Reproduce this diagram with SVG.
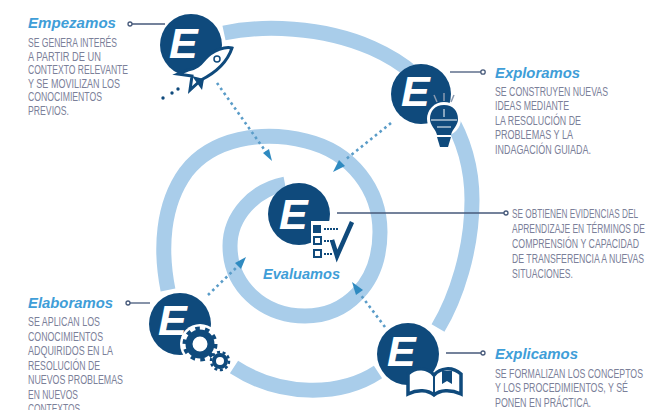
<svg xmlns="http://www.w3.org/2000/svg" width="646" height="410" viewBox="0 0 646 410">
<style>
.ring{fill:none;stroke:#a9cdea;stroke-width:15}
.conn{fill:none;stroke:#46597a;stroke-width:1.3}
.dot{fill:#fff;stroke:#46597a;stroke-width:1.3}
.flow{fill:none;stroke:#5a9cc8;stroke-width:2.6;stroke-dasharray:2.6 3.4}
.head{fill:#2f8ac0}
.badge{fill:#0f4a7c}
.e{font:italic 700 43px "Liberation Sans",Arial,sans-serif;fill:#fff}
.solid{fill:#0f4a7c}
.title{font:italic 700 14px "Liberation Sans",Arial,sans-serif;fill:#3f9ed8}
.body{font:400 12.5px "Liberation Sans",Arial,sans-serif;fill:#7b8099}
</style>
<g id="spiral">
<path class="ring" d="M224 33C262 25 322 26 372 48C440 78 472 140 472 200C472 250 456 298 438 328"/>
<path class="ring" d="M378 372C340 397 280 397 234 367"/>
<path class="ring" d="M168 290C160 250 162 205 186 172C212 138 262 130 306 141C352 152 380 190 380 232C380 285 345 316 305 316C262 316 230 285 230 246C230 216 254 190 285 184"/>
</g>
<g id="connectors">
<path class="conn" d="M130 24H165"/><circle class="dot" cx="130" cy="24" r="2"/>
<path class="conn" d="M450 72H481"/><circle class="dot" cx="483" cy="72" r="2.2"/>
<path class="conn" d="M129 303H150"/><circle class="dot" cx="128" cy="303" r="2"/>
<path class="conn" d="M446 353H481"/><circle class="dot" cx="483" cy="353" r="2"/>
<path class="conn" d="M337 213H504"/><circle class="dot" cx="506" cy="213" r="2"/>
<path class="flow" d="M217 83L266 152"/><path class="head" d="M272 161L263 153L269 149Z"/>
<path class="flow" d="M391 123L345 160"/><path class="head" d="M333 172L339 160L345 166Z"/>
<path class="flow" d="M208 295L238 266"/><path class="head" d="M246 257L241 269L235 263Z"/>
<path class="flow" d="M385 327L360 294"/><path class="head" d="M352 282L363 290L356 295Z"/>
</g>
<g id="empezamos">
<circle class="badge" cx="191" cy="45" r="31"/>
<text class="e" x="169" y="58">E</text>
<path d="M232 48C226 46 213 50 205 59C200 65 196 69 188 70L178 74L192 76L190 90L201 80C209 76 226 66 232 48Z" fill="#fff" stroke="#0f4a7c" stroke-width="3"/>
<path d="M192 76L202 90L204 79Z" class="solid"/>
<circle cx="217" cy="59" r="3" fill="none" stroke="#0f4a7c" stroke-width="1.5"/>
<circle cx="163" cy="98" r="1.7" class="solid"/><circle cx="172" cy="93" r="1.7" class="solid"/><circle cx="178" cy="89" r="1.7" class="solid"/>
<text class="title" x="28" y="28" textLength="88" lengthAdjust="spacingAndGlyphs">Empezamos</text>
<text class="body" x="28" y="47" textLength="89" lengthAdjust="spacingAndGlyphs">SE GENERA INTERÉS</text>
<text class="body" x="28" y="60.5" textLength="73" lengthAdjust="spacingAndGlyphs">A PARTIR DE UN</text>
<text class="body" x="28" y="74" textLength="100" lengthAdjust="spacingAndGlyphs">CONTEXTO RELEVANTE</text>
<text class="body" x="28" y="88" textLength="92" lengthAdjust="spacingAndGlyphs">Y SE MOVILIZAN LOS</text>
<text class="body" x="28" y="101" textLength="74" lengthAdjust="spacingAndGlyphs">CONOCIMIENTOS</text>
<text class="body" x="28" y="115" textLength="41" lengthAdjust="spacingAndGlyphs">PREVIOS.</text>
</g>
<g id="exploramos">
<circle class="badge" cx="421" cy="94" r="30"/>
<text class="e" x="401" y="106">E</text>
<circle cx="444" cy="119" r="17" fill="#fff"/>
<path class="solid" d="M444 105C435 105 430 111 430 119C430 126 436 129 437 135H451C452 129 458 126 458 119C458 111 453 105 444 105Z"/>
<path class="solid" d="M437 137H451L448 147H440Z"/>
<path d="M431 120H457" stroke="#fff" stroke-width="1"/>
<path d="M444 109V117M437 127H451" stroke="#fff" stroke-width="1"/>
<path d="M437 102L434 95M444 101V93M451 102L454 95" stroke="#8a9ab0" stroke-width="1.5"/>
<text class="title" x="495" y="78" textLength="85" lengthAdjust="spacingAndGlyphs">Exploramos</text>
<text class="body" x="495" y="96" textLength="113" lengthAdjust="spacingAndGlyphs">SE CONSTRUYEN NUEVAS</text>
<text class="body" x="495" y="110" textLength="74" lengthAdjust="spacingAndGlyphs">IDEAS MEDIANTE</text>
<text class="body" x="495" y="125" textLength="86" lengthAdjust="spacingAndGlyphs">LA RESOLUCIÓN DE</text>
<text class="body" x="495" y="139" textLength="78" lengthAdjust="spacingAndGlyphs">PROBLEMAS Y LA</text>
<text class="body" x="495" y="154" textLength="96" lengthAdjust="spacingAndGlyphs">INDAGACIÓN GUIADA.</text>
</g>
<g id="evaluamos">
<circle class="badge" cx="299" cy="214" r="31"/>
<text class="e" x="279" y="229">E</text>
<rect x="311" y="221" width="28" height="40" fill="#fff"/>
<rect x="313" y="225" width="8" height="8" class="solid"/>
<rect x="314" y="237" width="7" height="7" fill="#fff" stroke="#0f4a7c" stroke-width="2"/>
<rect x="314" y="250" width="7" height="7" fill="#fff" stroke="#0f4a7c" stroke-width="2"/>
<path d="M324 229H339M324 241H333M324 254H333" stroke="#0f4a7c" stroke-width="2" stroke-dasharray="2 1"/>
<path d="M332 240L337 256L352 222" fill="none" stroke="#0f4a7c" stroke-width="4.5"/>
<text class="title" x="263" y="279" textLength="77" lengthAdjust="spacingAndGlyphs">Evaluamos</text>
<text class="body" x="512" y="218" textLength="126" lengthAdjust="spacingAndGlyphs">SE OBTIENEN EVIDENCIAS DEL</text>
<text class="body" x="512" y="233" textLength="133" lengthAdjust="spacingAndGlyphs">APRENDIZAJE EN TÉRMINOS DE</text>
<text class="body" x="512" y="248" textLength="127" lengthAdjust="spacingAndGlyphs">COMPRENSIÓN Y CAPACIDAD</text>
<text class="body" x="512" y="263" textLength="132" lengthAdjust="spacingAndGlyphs">DE TRANSFERENCIA A NUEVAS</text>
<text class="body" x="512" y="278" textLength="61" lengthAdjust="spacingAndGlyphs">SITUACIONES.</text>
</g>
<g id="elaboramos">
<circle class="badge" cx="180" cy="324" r="31"/>
<text class="e" x="158" y="335">E</text>
<circle cx="200" cy="344" r="20" fill="#fff"/>
<circle cx="200" cy="344" r="11" fill="none" stroke="#0f4a7c" stroke-width="7"/>
<circle cx="200" cy="344" r="15.5" fill="none" stroke="#0f4a7c" stroke-width="4" stroke-dasharray="4.5 5.2"/>
<circle cx="220" cy="361" r="6" fill="#fff" stroke="#0f4a7c" stroke-width="4"/>
<circle cx="220" cy="361" r="9" fill="none" stroke="#0f4a7c" stroke-width="2.5" stroke-dasharray="3 2.6"/>
<text class="title" x="28" y="308" textLength="85" lengthAdjust="spacingAndGlyphs">Elaboramos</text>
<text class="body" x="28" y="326" textLength="72" lengthAdjust="spacingAndGlyphs">SE APLICAN LOS</text>
<text class="body" x="28" y="341" textLength="75" lengthAdjust="spacingAndGlyphs">CONOCIMIENTOS</text>
<text class="body" x="28" y="355" textLength="85" lengthAdjust="spacingAndGlyphs">ADQUIRIDOS EN LA</text>
<text class="body" x="28" y="370" textLength="72" lengthAdjust="spacingAndGlyphs">RESOLUCIÓN DE</text>
<text class="body" x="28" y="384" textLength="95" lengthAdjust="spacingAndGlyphs">NUEVOS PROBLEMAS</text>
<text class="body" x="28" y="399" textLength="50" lengthAdjust="spacingAndGlyphs">EN NUEVOS</text>
<text class="body" x="28" y="413" textLength="52" lengthAdjust="spacingAndGlyphs">CONTEXTOS</text>
</g>
<g id="explicamos">
<circle class="badge" cx="408" cy="354" r="31"/>
<text class="e" x="387" y="366">E</text>
<path d="M408 394V374C416 366 428 368 434 375C440 368 452 366 461 374V394C450 389 440 390 434 395C428 390 418 389 408 394Z" fill="#fff" stroke="#0f4a7c" stroke-width="3.5"/>
<path d="M434 375V394" stroke="#0f4a7c" stroke-width="2"/>
<path d="M442 371V384L447 381L452 384V371Z" class="solid"/>
<text class="title" x="495" y="359" textLength="83" lengthAdjust="spacingAndGlyphs">Explicamos</text>
<text class="body" x="495" y="378" textLength="148" lengthAdjust="spacingAndGlyphs">SE FORMALIZAN LOS CONCEPTOS</text>
<text class="body" x="495" y="392" textLength="133" lengthAdjust="spacingAndGlyphs">Y LOS PROCEDIMIENTOS, Y SÉ</text>
<text class="body" x="495" y="407" textLength="96" lengthAdjust="spacingAndGlyphs">PONEN EN PRÁCTICA.</text>
</g>
</svg>
